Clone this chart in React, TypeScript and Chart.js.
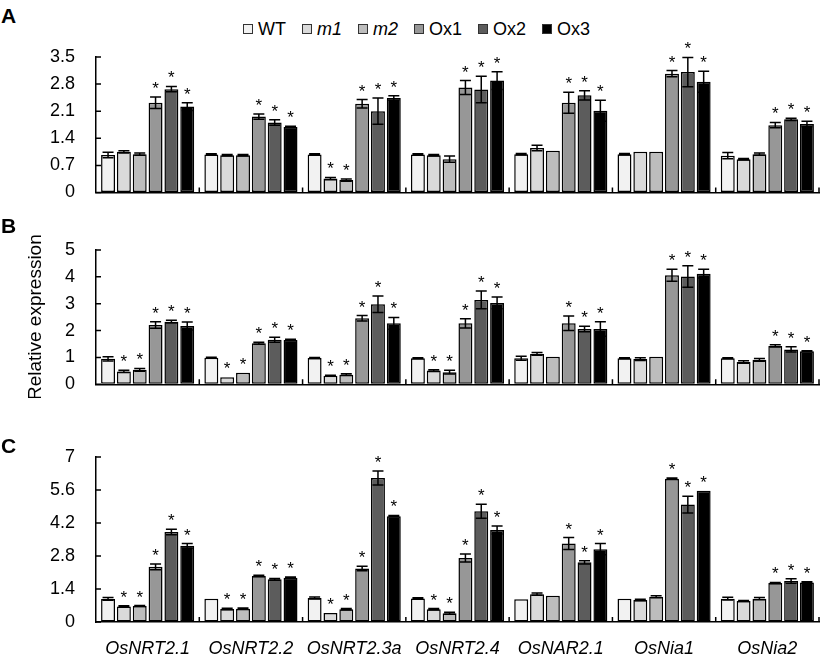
import React, { useEffect, useRef } from "react";
import { Chart, registerables } from "chart.js";

Chart.register(...registerables);

const FONT = "'Liberation Sans', Arial, Helvetica, sans-serif";

const genes = ["OsNRT2.1", "OsNRT2.2", "OsNRT2.3a", "OsNRT2.4", "OsNAR2.1", "OsNia1", "OsNia2"];
const seriesNames = ["WT", "m1", "m2", "Ox1", "Ox2", "Ox3"];
const seriesItalic = [false, true, true, false, false, false];
const seriesColors = ["#f2f2f2", "#dadada", "#bdbdbd", "#979797", "#5c5c5c", "#000000"];

const ticksA = [0, 0.7, 1.4, 2.1, 2.8, 3.5];
const ticksB = [0, 1, 2, 3, 4, 5];
const ticksC = [0, 1.4, 2.8, 4.2, 5.6, 7];

// Panel A: rows = WT, m1, m2, Ox1, Ox2, Ox3; columns = genes
const valuesA = [
  [0.97, 0.98, 0.98, 0.98, 0.99, 0.99, 0.95],
  [1.05, 0.96, 0.36, 0.96, 1.15, 1.05, 0.86],
  [0.99, 0.96, 0.32, 0.86, 1.08, 1.05, 0.99],
  [2.32, 1.96, 2.29, 2.71, 2.32, 3.07, 1.74],
  [2.67, 1.81, 2.10, 2.66, 2.51, 3.11, 1.89],
  [2.22, 1.69, 2.44, 2.89, 2.11, 2.86, 1.77],
];
const errorsA = [
  [0.07, 0.02, 0.02, 0.02, 0.02, 0.02, 0.08],
  [0.03, 0.02, 0.03, 0.02, 0.07, 0, 0.02],
  [0.03, 0.02, 0.03, 0.08, 0, 0, 0.03],
  [0.15, 0.07, 0.11, 0.18, 0.27, 0.08, 0.07],
  [0.07, 0.07, 0.34, 0.34, 0.12, 0.38, 0.03],
  [0.10, 0.02, 0.06, 0.23, 0.27, 0.27, 0.07],
];
const starsA = [
  [0, 0, 0, 0, 0, 0, 0],
  [0, 0, 1, 0, 0, 0, 0],
  [0, 0, 1, 0, 0, 0, 0],
  [1, 1, 1, 1, 1, 1, 1],
  [1, 1, 1, 1, 1, 1, 1],
  [1, 1, 1, 1, 1, 1, 1],
];

// Panel B
const valuesB = [
  [0.95, 0.99, 0.98, 0.97, 0.97, 0.97, 0.97],
  [0.48, 0.26, 0.32, 0.51, 1.13, 0.94, 0.83],
  [0.54, 0.43, 0.36, 0.45, 1.03, 1.03, 0.91],
  [2.21, 1.53, 2.46, 2.27, 2.27, 4.06, 1.43],
  [2.33, 1.66, 2.98, 3.14, 2.06, 4.01, 1.30],
  [2.17, 1.65, 2.27, 3.03, 2.06, 4.12, 1.23],
];
const errorsB = [
  [0.08, 0.02, 0.02, 0.02, 0.07, 0.02, 0.02],
  [0.04, 0, 0.02, 0.03, 0.05, 0.05, 0.05],
  [0.05, 0, 0.03, 0.07, 0, 0, 0.05],
  [0.12, 0.04, 0.10, 0.17, 0.27, 0.22, 0.04],
  [0.05, 0.09, 0.31, 0.33, 0.10, 0.40, 0.10],
  [0.15, 0.03, 0.22, 0.22, 0.27, 0.16, 0.02],
];
const starsB = [
  [0, 0, 0, 0, 0, 0, 0],
  [1, 1, 1, 1, 0, 0, 0],
  [1, 1, 1, 1, 0, 0, 0],
  [1, 1, 1, 1, 1, 1, 1],
  [1, 1, 1, 1, 1, 1, 1],
  [1, 1, 1, 1, 1, 1, 1],
];

// Panel C
const valuesC = [
  [0.98, 0.99, 1.02, 1.00, 0.97, 0.99, 0.99],
  [0.66, 0.55, 0.38, 0.54, 1.18, 0.93, 0.89],
  [0.68, 0.56, 0.54, 0.37, 1.11, 1.07, 0.99],
  [2.34, 1.95, 2.27, 2.72, 3.33, 6.08, 1.65],
  [3.82, 1.81, 6.11, 4.70, 2.53, 4.98, 1.74],
  [3.23, 1.88, 4.49, 3.90, 3.09, 5.57, 1.68],
];
const errorsC = [
  [0.06, 0, 0.04, 0.03, 0, 0, 0.06],
  [0.03, 0.03, 0, 0.03, 0.05, 0.03, 0.02],
  [0.02, 0.03, 0.03, 0.04, 0, 0.04, 0.05],
  [0.12, 0.03, 0.10, 0.17, 0.25, 0.03, 0.03],
  [0.12, 0.04, 0.30, 0.30, 0.07, 0.36, 0.10],
  [0.10, 0.03, 0.03, 0.17, 0.24, 0, 0.03],
];
const starsC = [
  [0, 0, 0, 0, 0, 0, 0],
  [1, 1, 1, 1, 0, 0, 0],
  [1, 1, 1, 1, 0, 0, 0],
  [1, 1, 1, 1, 1, 1, 1],
  [1, 1, 1, 1, 1, 1, 1],
  [1, 1, 1, 1, 1, 1, 1],
];

type PanelCfg = {
  values: number[][];
  errors: number[][];
  stars: number[][];
  ticks: number[];
  top: number;
  height: number;
  padTop: number;
  xHeight: number;
  showLabels: boolean;
  yTitle?: string;
};

const panels: PanelCfg[] = [
  { values: valuesA, errors: errorsA, stars: starsA, ticks: ticksA, top: 40, height: 170, padTop: 17, xHeight: 17.5, showLabels: false },
  { values: valuesB, errors: errorsB, stars: starsB, ticks: ticksB, top: 228, height: 170, padTop: 22, xHeight: 13.7, showLabels: false, yTitle: "Relative expression" },
  { values: valuesC, errors: errorsC, stars: starsC, ticks: ticksC, top: 440, height: 222, padTop: 17, xHeight: 40, showLabels: true },
];

function makeDecorPlugin(cfg: PanelCfg) {
  return {
    id: "decor",
    afterDatasetsDraw(chart: any) {
      const ctx = chart.ctx;
      const ys = chart.scales.y;
      const xs = chart.scales.x;
      const area = chart.chartArea;
      ctx.save();
      ctx.strokeStyle = "#000";
      ctx.lineWidth = 1.5;
      // inward y ticks
      ctx.beginPath();
      ys.ticks.forEach((_t: any, k: number) => {
        const py = ys.getPixelForTick(k);
        ctx.moveTo(area.left, py);
        ctx.lineTo(area.left + 5, py);
      });
      // upward x ticks at category boundaries
      const n = xs.ticks.length;
      for (let k = 0; k < n; k++) {
        const bx = k < n - 1 ? (xs.getPixelForTick(k) + xs.getPixelForTick(k + 1)) / 2 : area.right;
        ctx.moveTo(bx, area.bottom);
        ctx.lineTo(bx, area.bottom - 5);
      }
      ctx.stroke();

      // error bars & asterisks
      const cap = 5.5;
      ctx.fillStyle = "#000";
      ctx.font = `17px ${FONT}`;
      ctx.textAlign = "center";
      ctx.textBaseline = "alphabetic";
      chart.data.datasets.forEach((_ds: any, i: number) => {
        const meta = chart.getDatasetMeta(i);
        meta.data.forEach((el: any, j: number) => {
          const v = cfg.values[i][j];
          const e = cfg.errors[i][j];
          const x = el.x;
          const top = ys.getPixelForValue(v + e);
          if (e > 0) {
            const bot = ys.getPixelForValue(v - e);
            ctx.beginPath();
            ctx.moveTo(x, top);
            ctx.lineTo(x, bot);
            ctx.moveTo(x - cap, top);
            ctx.lineTo(x + cap, top);
            ctx.moveTo(x - cap, bot);
            ctx.lineTo(x + cap, bot);
            ctx.stroke();
          }
          if (cfg.stars[i][j]) {
            ctx.fillText("*", x, top - 3);
          }
        });
      });
      ctx.restore();
    },
  };
}

const hiddenTickGrid = (len: number) => ({
  display: true,
  drawOnChartArea: false,
  drawTicks: true,
  tickLength: len,
  tickColor: "rgba(0,0,0,0)",
});

function Panel({ cfg }: { cfg: PanelCfg }) {
  const ref = useRef<HTMLCanvasElement | null>(null);
  useEffect(() => {
    if (!ref.current) return;
    const chart = new Chart(ref.current, {
      type: "bar",
      data: {
        labels: genes,
        datasets: seriesNames.map((name, i) => ({
          label: name,
          data: cfg.values[i],
          backgroundColor: seriesColors[i],
          borderColor: "#000",
          borderWidth: 1.5,
          borderSkipped: false,
          categoryPercentage: 0.92,
          barPercentage: 0.88,
        })),
      },
      options: {
        animation: false,
        responsive: false,
        maintainAspectRatio: false,
        layout: { autoPadding: false, padding: { top: cfg.padTop, right: 21, left: 0, bottom: 0 } },
        plugins: { legend: { display: false }, tooltip: { enabled: false } },
        scales: {
          x: {
            grid: hiddenTickGrid(16),
            border: { display: true, color: "#000", width: 1.5 },
            ticks: {
              display: cfg.showLabels,
              color: "#000",
              font: { family: FONT, size: 18, style: "italic" },
              padding: 0,
              autoSkip: false,
              maxRotation: 0,
              minRotation: 0,
            },
            afterFit: (s: any) => {
              s.height = cfg.xHeight;
            },
          },
          y: {
            min: cfg.ticks[0],
            max: cfg.ticks[cfg.ticks.length - 1],
            grid: hiddenTickGrid(21),
            border: { display: true, color: "#000", width: 1.5 },
            ticks: {
              color: "#000",
              font: { family: FONT, size: 18 },
              padding: 0,
              callback: (v: any) => String(+Number(v).toFixed(2)),
            },
            afterBuildTicks: (s: any) => {
              s.ticks = cfg.ticks.map((v) => ({ value: v }));
            },
            afterFit: (s: any) => {
              s.width = 96;
            },
            title: {
              display: !!cfg.yTitle,
              text: cfg.yTitle || "",
              color: "#000",
              font: { family: FONT, size: 19 },
              padding: { top: 24, bottom: 0 },
            },
          },
        },
      } as any,
      plugins: [makeDecorPlugin(cfg)],
    });
    return () => chart.destroy();
  }, [cfg]);
  return (
    <canvas
      ref={ref}
      width={840}
      height={cfg.height}
      style={{ position: "absolute", left: 0, top: cfg.top, width: 840, height: cfg.height, display: "block" }}
    />
  );
}

const letterStyle: React.CSSProperties = {
  position: "absolute",
  left: 1,
  fontFamily: FONT,
  fontWeight: "bold",
  fontSize: 21,
  lineHeight: "21px",
  color: "#000",
};

export default function App() {
  return (
    <div
      style={{
        position: "absolute",
        left: 0,
        top: 0,
        width: 840,
        height: 662,
        background: "#fff",
        overflow: "hidden",
        fontFamily: FONT,
      }}
    >
      {panels.map((p, i) => (
        <Panel key={i} cfg={p} />
      ))}
      <div style={{ ...letterStyle, top: 5 }}>A</div>
      <div style={{ ...letterStyle, top: 215 }}>B</div>
      <div style={{ ...letterStyle, top: 435 }}>C</div>
      <div
        style={{
          position: "absolute",
          left: 243,
          top: 19,
          height: 20,
          display: "flex",
          alignItems: "center",
          fontSize: 18,
          lineHeight: "20px",
          color: "#000",
        }}
      >
        {seriesNames.map((name, i) => (
          <div key={name} style={{ display: "flex", alignItems: "center", marginRight: 16 }}>
            <span
              style={{
                display: "inline-block",
                width: 8,
                height: 8,
                border: "1px solid #333",
                background: seriesColors[i],
                marginRight: 5,
              }}
            />
            <span style={{ fontStyle: seriesItalic[i] ? "italic" : "normal" }}>{name}</span>
          </div>
        ))}
      </div>
    </div>
  );
}
